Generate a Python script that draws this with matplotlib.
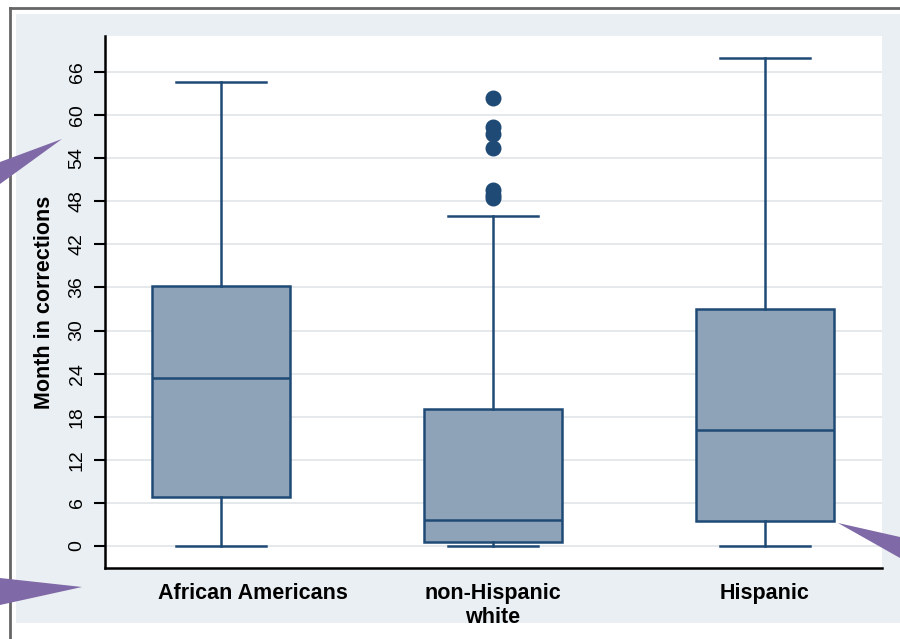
import matplotlib
matplotlib.use("Agg")
import matplotlib.pyplot as plt
import matplotlib.transforms as mtransforms
from matplotlib.patches import Rectangle, Polygon
from matplotlib.lines import Line2D

plt.rcParams['font.family'] = ['Liberation Sans', 'DejaVu Sans']

groups = ["African Americans", "non-Hispanic\nwhite", "Hispanic"]
q1 = [6.8, 0.5, 3.5]
median = [23.4, 3.6, 16.2]
q3 = [36.2, 19.1, 33.0]
whislo = [0, 0, 0]
whishi = [64.6, 46.0, 68.0]
outliers = [[], [62.4, 58.3, 57.3, 55.4, 49.6, 48.9, 48.5], []]
yticks = list(range(0, 67, 6))

box_fill = '#8fa3b8'
navy = '#1f4a75'
W, H = 900, 639


def fx(px):
    return px / W


def fy(py):
    return 1 - py / H


fig = plt.figure(figsize=(9, 6.39), dpi=100)
fig.patch.set_facecolor('white')

# light panel and grey frame behind the plot
fig.patches.append(Rectangle((fx(16), fy(623)), 1 - fx(16), fy(14) - fy(623),
                             transform=fig.transFigure, facecolor='#eaeff3',
                             edgecolor='none', zorder=-2))
fig.lines.append(Line2D([fx(10), fx(10)], [0, fy(8)], transform=fig.transFigure,
                        color='#666666', lw=2, zorder=-1))
fig.lines.append(Line2D([fx(10), 1], [fy(8), fy(8)], transform=fig.transFigure,
                        color='#666666', lw=2, zorder=-1))

ax = fig.add_axes([fx(105), fy(568), fx(882) - fx(105), fy(36) - fy(568)])
ax.set_facecolor('white')
ax.set_zorder(1)

stats = []
for i in range(len(groups)):
    stats.append(dict(q1=q1[i], med=median[i], q3=q3[i], whislo=whislo[i],
                      whishi=whishi[i], fliers=outliers[i], label=groups[i]))

ax.bxp(stats, positions=[1, 2, 3], widths=0.505, patch_artist=True,
       boxprops=dict(facecolor=box_fill, edgecolor=navy, linewidth=1.8),
       medianprops=dict(color=navy, linewidth=1.8),
       whiskerprops=dict(color=navy, linewidth=1.8),
       capprops=dict(color=navy, linewidth=1.8),
       capwidths=0.33,
       flierprops=dict(marker='o', markerfacecolor=navy, markeredgecolor=navy,
                       markersize=10.5))

ax.set_xlim(0.573, 3.43)
ax.set_ylim(-3.06, 71)
ax.set_yticks(yticks)
ax.set_yticklabels([str(t) for t in yticks], rotation=90, va='center', fontsize=14)
ax.yaxis.grid(True, color='#e6e9ec', lw=1.4)
ax.set_axisbelow(True)
ax.tick_params(axis='y', length=8, width=1.5, pad=6)
ax.tick_params(axis='x', length=0, pad=11)
xlabs = ax.get_xticklabels()
for lab in xlabs:
    lab.set_fontweight('bold')
    lab.set_fontsize(15.5)
# first category label sits a bit right of its box
shift = mtransforms.ScaledTranslation(32 / 100, 0, fig.dpi_scale_trans)
xlabs[0].set_transform(xlabs[0].get_transform() + shift)
ax.set_ylabel('Month in corrections', fontsize=15.5, fontweight='bold', labelpad=10)

for s in ['top', 'right']:
    ax.spines[s].set_visible(False)
for s in ['left', 'bottom']:
    ax.spines[s].set_linewidth(1.8)

# purple pointer wedges
purple = '#7f69a6'
for pts in ([(0, 162), (62, 139), (0, 184)],
            [(0, 578), (82, 587), (0, 605)],
            [(838, 523), (900, 537), (900, 558)]):
    fig.patches.append(Polygon([(fx(x), fy(y)) for x, y in pts], closed=True,
                               transform=fig.transFigure, facecolor=purple,
                               edgecolor='none', zorder=10))

fig.savefig('out.png', dpi=100)
